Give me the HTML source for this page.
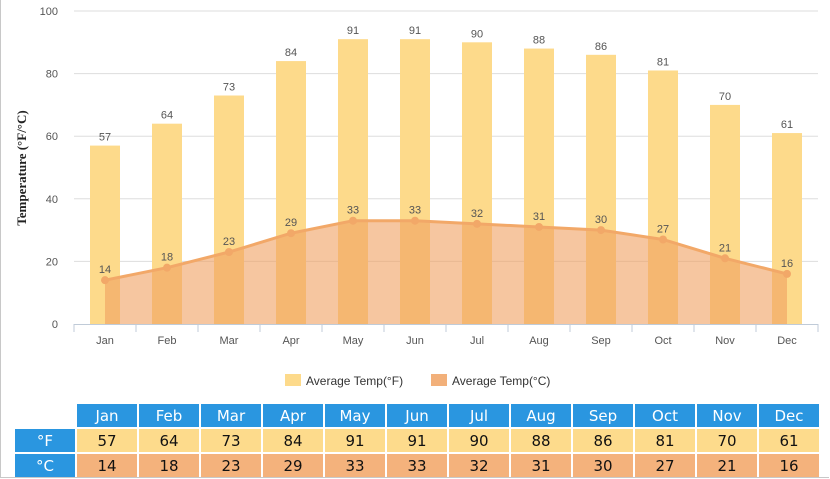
<!DOCTYPE html>
<html><head><meta charset="utf-8"><style>
body{margin:0;background:#fff;font-family:"Liberation Sans",sans-serif;}
#wrap{position:relative;width:828px;height:477px;border:1px solid #c8c8c8;border-top:none;border-right:none;overflow:hidden}
table{position:absolute;left:12px;top:402px;border-collapse:separate;border-spacing:2px;font-family:"DejaVu Sans",sans-serif}
td{height:23px;text-align:center;font-size:15px;padding:0}
td.h{background:#2a96e0;color:#fff;width:60px}
td.f{background:#fddb8c;color:#111}
td.c{background:#f4b27c;color:#111}
td.e{background:#fff}
</style></head><body>
<div id="wrap">
<svg id="chart" width="830" height="400" style="position:absolute;left:-1px;top:0"></svg>
<table>
<tr id="hr"><td class="e" style="width:60px"></td></tr>
<tr id="fr"><td class="h">°F</td></tr>
<tr id="cr"><td class="h">°C</td></tr>
</table>
</div>
<script>
const months=["Jan","Feb","Mar","Apr","May","Jun","Jul","Aug","Sep","Oct","Nov","Dec"];
const tempF=[57,64,73,84,91,91,90,88,86,81,70,61];
const tempC=[14,18,23,29,33,33,32,31,30,27,21,16];
const yTicks=[0,20,40,60,80,100];
const svg=document.getElementById('chart');const NS="http://www.w3.org/2000/svg";
const x0=74,x1=818,yTop=11,yBot=324;
const bw=(x1-x0)/months.length;
const xc=i=>x0+bw*(i+0.5);
const y=v=>yBot-(v/100)*(yBot-yTop);
function mk(t,a,p){const e=document.createElementNS(NS,t);for(const k in a)e.setAttribute(k,a[k]);(p||svg).appendChild(e);return e;}
yTicks.forEach(v=>{
 if(v>0){const l=mk('line',{x1:x0,x2:x1,y1:y(v),y2:y(v),stroke:'#ddd'});}
 const t=mk('text',{x:58,y:y(v)+4,'text-anchor':'end','font-size':11,fill:'#555'});t.textContent=v;
 
});
const yt=mk('text',{x:26,y:168,'text-anchor':'middle','font-size':13,'font-weight':'bold','font-family':'Liberation Serif,serif',fill:'#222',transform:'rotate(-90 26 168)'});
yt.textContent='Temperature (°F/°C)';
tempF.forEach((v,i)=>{
 const r=mk('rect',{x:xc(i)-15,y:y(v),width:30,height:yBot-y(v),fill:'#fdda8b'});
 
 const t=mk('text',{x:xc(i),y:y(v)-5,'text-anchor':'middle','font-size':11,fill:'#555'});t.textContent=v;
 
});
let pts=tempC.map((v,i)=>xc(i)+','+y(v));
const area=mk('polygon',{points:xc(0)+','+yBot+' '+pts.join(' ')+' '+xc(11)+','+yBot,fill:'#f0a060','fill-opacity':0.6});

const pl=mk('polyline',{points:pts.join(' '),fill:'none',stroke:'#f2a868','stroke-width':3});

tempC.forEach((v,i)=>{
 const c=mk('circle',{cx:xc(i),cy:y(v),r:4,fill:'#f2a868'});
 
 const t=mk('text',{x:xc(i),y:y(v)-7,'text-anchor':'middle','font-size':11,fill:'#555'});t.textContent=v;
 
});
const ax=mk('line',{x1:x0,x2:x1,y1:yBot+0.5,y2:yBot+0.5,stroke:'#c0cbd8'});
for(let i=0;i<=months.length;i++){mk('line',{x1:x0+bw*i,x2:x0+bw*i,y1:yBot,y2:yBot+8,stroke:'#c0cbd8'});}
months.forEach((m,i)=>{const t=mk('text',{x:xc(i),y:yBot+20,'text-anchor':'middle','font-size':11,fill:'#555'});t.textContent=m;
 });
const lg=[['Average Temp(°F)','#fdda8b',285],['Average Temp(°C)','#f2b07a',431]];
lg.forEach(([s,c,lx])=>{const g=mk('g',{});
 mk('rect',{x:lx,y:374,width:16,height:12,fill:c},g);const t=mk('text',{x:lx+21,y:385,'font-size':12,fill:'#333'},g);t.textContent=s;});
const hr=document.getElementById('hr'),fr=document.getElementById('fr'),cr=document.getElementById('cr');
months.forEach((m,i)=>{
 let a=document.createElement('td');a.className='h';a.textContent=m;hr.appendChild(a);
 a=document.createElement('td');a.className='f';a.textContent=tempF[i];fr.appendChild(a);
 a=document.createElement('td');a.className='c';a.textContent=tempC[i];cr.appendChild(a);
});
</script>
</body></html>
